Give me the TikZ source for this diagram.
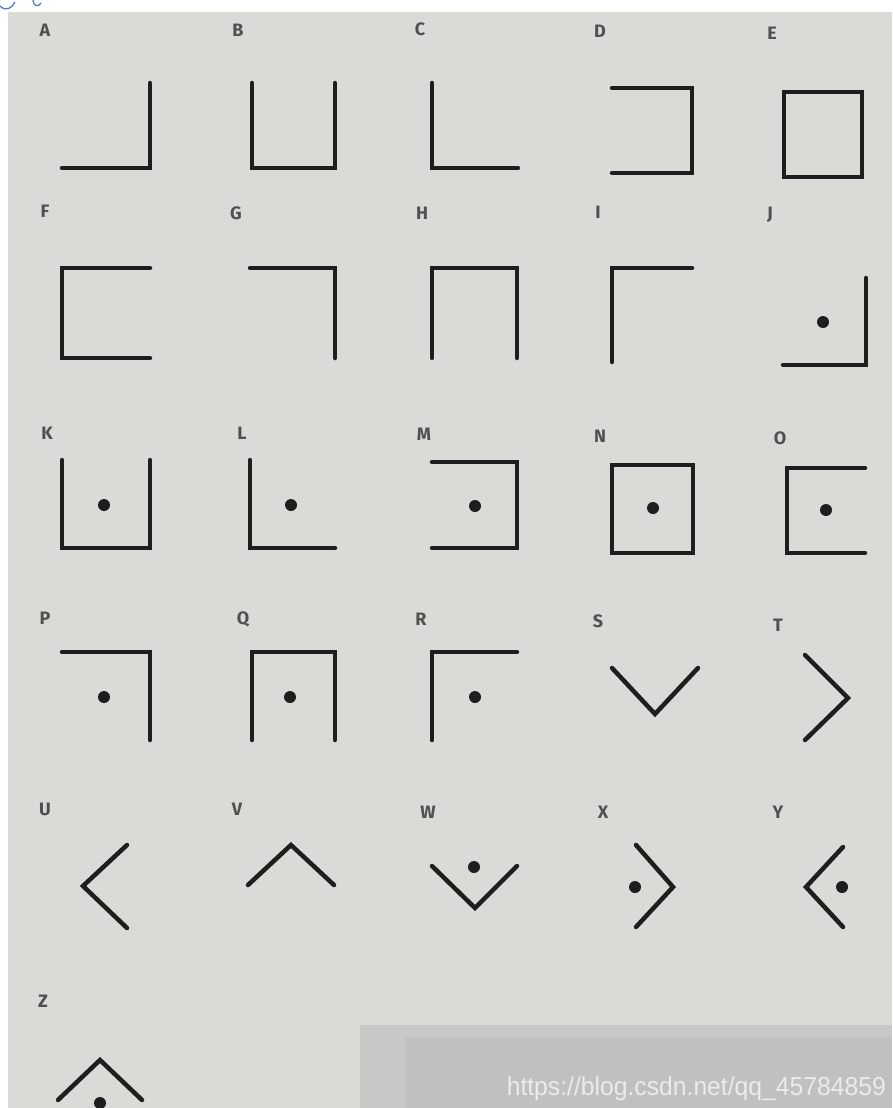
\documentclass[tikz,border=0pt]{standalone}
\usepackage{fontspec}
\newfontfamily\lblfont{Fira Sans}
\newfontfamily\wmfont{Liberation Sans}
\definecolor{bgphoto}{RGB}{218,218,215}
\definecolor{ink}{RGB}{30,30,30}
\definecolor{lblgray}{RGB}{80,80,80}
\definecolor{wmbox}{RGB}{200,200,198}
\definecolor{wmbox2}{RGB}{192,192,190}
\definecolor{wmtext}{RGB}{235,235,235}
\definecolor{blueline}{RGB}{60,120,230}
\tikzset{
  glyph/.style={draw=ink,line width=4.5pt,line cap=round,line join=miter},
  pdot/.style={fill=ink,draw=none},
  lbl/.style={text=lblgray,font=\lblfont\bfseries\fontsize{18}{18}\selectfont,inner sep=0pt,anchor=center}
}
\begin{document}
\begin{tikzpicture}[x=1pt,y=-1pt]
\useasboundingbox (0,0) rectangle (892,1108);
\fill[white] (0,0) rectangle (892,1108);
\fill[bgphoto] (8,12) rectangle (892,1108);
\draw[blueline,line width=1.2pt] (0,6) .. controls (6,12) and (12,8) .. (15,2);
\draw[blueline,line width=1.2pt] (33,0) .. controls (33,6) and (38,8) .. (41,3);
% watermark
\fill[wmbox] (360,1025) rectangle (892,1108);
\fill[wmbox2] (405,1038) rectangle (892,1108);
\node[text=wmtext,font=\wmfont\fontsize{26}{26}\selectfont,anchor=base east,inner sep=0pt,xscale=0.95] (wm) at (886,1095) {https://blog.csdn.net/qq\_45784859};
% labels
\node[lbl] (lA) at (45,30) {A};
\node[lbl] (lB) at (238,30) {B};
\node[lbl] (lC) at (420,29) {C};
\node[lbl] (lD) at (600,31) {D};
\node[lbl] (lE) at (772,33) {E};
\node[lbl] (lF) at (45,211) {F};
\node[lbl] (lG) at (236,213) {G};
\node[lbl] (lH) at (422,213) {H};
\node[lbl] (lI) at (598,212) {I};
\node[lbl] (lJ) at (770,215) {J};
\node[lbl] (lK) at (47,433) {K};
\node[lbl] (lL) at (242,433) {L};
\node[lbl] (lM) at (424,434) {M};
\node[lbl] (lN) at (600,436) {N};
\node[lbl] (lO) at (780,438) {O};
\node[lbl] (lP) at (45,618) {P};
\node[lbl] (lQ) at (243,619) {Q};
\node[lbl] (lR) at (421,619) {R};
\node[lbl] (lS) at (598,621) {S};
\node[lbl] (lT) at (778,625) {T};
\node[lbl] (lU) at (45,809) {U};
\node[lbl] (lV) at (237,809) {V};
\node[lbl] (lW) at (428,812) {W};
\node[lbl] (lX) at (603,812) {X};
\node[lbl] (lY) at (778,812) {Y};
\node[lbl] (lZ) at (43,1001) {Z};
% row 1
\draw[glyph] (150,83) -- (150,168) -- (62,168);
\draw[glyph] (252,83) -- (252,168) -- (335,168) -- (335,83);
\draw[glyph] (432,83) -- (432,168) -- (518,168);
\draw[glyph] (612,88) -- (692,88) -- (692,173) -- (612,173);
\draw[glyph] (784,92) rectangle (862,177);
% row 2
\draw[glyph] (150,268) -- (62,268) -- (62,358) -- (150,358);
\draw[glyph] (250,268) -- (335,268) -- (335,358);
\draw[glyph] (432,358) -- (432,268) -- (517,268) -- (517,358);
\draw[glyph] (612,362) -- (612,268) -- (692,268);
\draw[glyph] (866,278) -- (866,365) -- (783,365);
\fill[pdot] (823,322) circle (6);
% row 3
\draw[glyph] (62,460) -- (62,548) -- (150,548) -- (150,460);
\fill[pdot] (104,505) circle (6);
\draw[glyph] (250,460) -- (250,548) -- (335,548);
\fill[pdot] (291,505) circle (6);
\draw[glyph] (432,462) -- (517,462) -- (517,548) -- (432,548);
\fill[pdot] (475,506) circle (6);
\draw[glyph] (612,465) rectangle (693,553);
\fill[pdot] (653,508) circle (6);
\draw[glyph] (865,468) -- (787,468) -- (787,553) -- (865,553);
\fill[pdot] (826,510) circle (6);
% row 4
\draw[glyph] (62,652) -- (150,652) -- (150,740);
\fill[pdot] (104,697) circle (6);
\draw[glyph] (252,740) -- (252,652) -- (335,652) -- (335,740);
\fill[pdot] (290,697) circle (6);
\draw[glyph] (432,740) -- (432,652) -- (517,652);
\fill[pdot] (475,697) circle (6);
\draw[glyph] (612,668) -- (655,714) -- (698,668);
\draw[glyph] (805,655) -- (848,698) -- (805,740);
% row 5
\draw[glyph] (127,845) -- (83,886) -- (127,928);
\draw[glyph] (248,885) -- (291,845) -- (334,885);
\draw[glyph] (432,866) -- (475,908) -- (517,866);
\fill[pdot] (474,867) circle (6);
\draw[glyph] (636,845) -- (673,887) -- (636,927);
\fill[pdot] (635,887) circle (6);
\draw[glyph] (843,847) -- (806,887) -- (843,927);
\fill[pdot] (842,887) circle (6);
% row 6
\draw[glyph] (58,1100) -- (100,1060) -- (142,1100);
\fill[pdot] (100,1103) circle (6);
\end{tikzpicture}
\end{document}
